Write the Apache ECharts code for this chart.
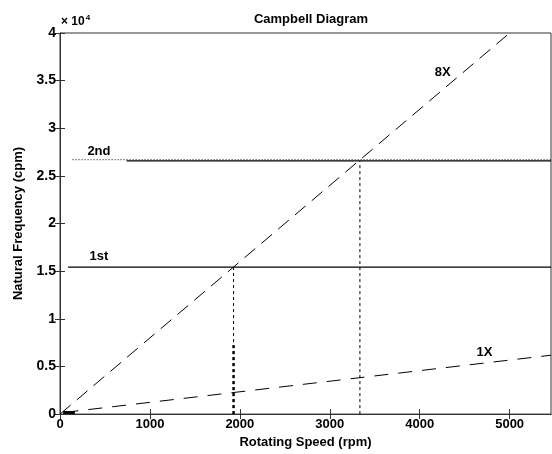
<!DOCTYPE html>
<html>
<head>
<meta charset="utf-8">
<script src="https://cdn.jsdelivr.net/npm/echarts@6/dist/echarts.min.js"></script>
<style>
  html, body { margin: 0; padding: 0; background: #fff; }
  #chart { width: 552px; height: 454px; }
</style>
</head>
<body>
<div id="chart"></div>
<script>
// x range / ticks
const xTicks = [0, 1000, 2000, 3000, 4000, 5000]
const xMax = 5460
const yTicks = [0, 5000, 10000, 15000, 20000, 25000, 30000, 35000, 40000]

// excitation lines
const line8X = [[0, 0], [5000, 40000]]
const line1X = [[50, 180], [5460, 6180]]

// natural frequencies
const mode1st = [[90, 15420], [5460, 15420]]
const mode2ndDotted = [[140, 26700], [5460, 26700]]
const mode2nd = [[740, 26570], [5460, 26570]]

// crossing markers
const cross1 = [[1930, 0], [1930, 15420]]
const cross1Thick = [[1930, 0], [1930, 7300]]
const cross2 = [[3335, 0], [3335, 26570]]
const originMark = [[35, 180], [165, 180]]

// text labels [x, y, text]
const labels = [
  [4255, 35900, '8X'],
  [4720, 6500, '1X'],
  [433, 27540, '2nd'],
  [433, 16550, '1st']
]

const font = 'Liberation Sans'
const txt = { color: '#000', fontFamily: font, fontWeight: 'bold', fontSize: 13 }

function seg(data, type, width) {
  return {
    type: 'line',
    data: data,
    symbol: 'none',
    silent: true,
    lineStyle: { color: '#000', width: width || 1, type: type }
  }
}

const chart = echarts.init(document.getElementById('chart'))
chart.setOption({
  animation: false,
  title: {
    text: 'Campbell Diagram',
    left: 306,
    textAlign: 'center',
    top: 8,
    textStyle: txt
  },
  grid: {
    left: 60, right: 1, top: 33, bottom: 39,
    show: true, borderColor: '#333', borderWidth: 1
  },
  xAxis: [{
    type: 'value', min: 0, max: xMax,
    name: 'Rotating Speed (rpm)', nameLocation: 'middle', nameGap: 21,
    nameTextStyle: txt,
    axisLine: { lineStyle: { color: '#333' } },
    axisTick: { inside: true, length: 5, customValues: xTicks, lineStyle: { color: '#333' } },
    axisLabel: Object.assign({}, txt, { margin: 4, customValues: xTicks, formatter: v => String(v) }),
    splitLine: { show: false }
  }, {
    type: 'value', min: 0, max: xMax, position: 'top',
    axisLine: { lineStyle: { color: '#333' } },
    axisTick: { inside: true, length: 5, customValues: xTicks, lineStyle: { color: '#333' } },
    axisLabel: { show: false },
    splitLine: { show: false }
  }],
  yAxis: [{
    type: 'value', min: yTicks[0], max: yTicks[yTicks.length - 1], interval: 5000,
    name: 'Natural Frequency (cpm)', nameLocation: 'middle', nameGap: 35,
    nameTextStyle: txt,
    axisLine: { lineStyle: { color: '#333' } },
    axisTick: { inside: true, length: 5, lineStyle: { color: '#333' } },
    axisLabel: Object.assign({}, txt, { fontSize: 14, margin: 4, formatter: v => String(v / 10000) }),
    splitLine: { show: false }
  }, {
    type: 'value', min: yTicks[0], max: yTicks[yTicks.length - 1], interval: 5000, position: 'right',
    axisLine: { lineStyle: { color: '#333' } },
    axisTick: { inside: true, length: 5, lineStyle: { color: '#333' } },
    axisLabel: { show: false },
    splitLine: { show: false }
  }],
  series: [
    seg(line8X, [14, 8]),
    seg(line1X, [14, 10]),
    seg(mode1st, 'solid', 1.2),
    seg(mode2ndDotted, [1, 2]),
    seg(mode2nd, 'solid', 1.2),
    seg(cross1, [3, 3]),
    seg(cross1Thick, [3, 3], 2.5),
    seg(cross2, [3, 3]),
    seg(originMark, 'solid', 3)
  ]
})

// text labels placed through the axis scales
const textEls = labels.map(l => {
  const p = chart.convertToPixel({ xAxisIndex: 0, yAxisIndex: 0 }, [l[0], l[1]])
  return {
    type: 'text',
    x: p[0],
    y: p[1],
    style: {
      text: l[2], fill: '#000', font: 'bold 13px ' + font,
      align: 'center', verticalAlign: 'middle'
    }
  }
})
textEls.push({
  type: 'text',
  left: 61,
  top: 14,
  style: {
    text: '× 10{s|4}',
    fill: '#000',
    font: 'bold 12px ' + font,
    rich: { s: { fontSize: 8, fontWeight: 'bold', fontFamily: font, verticalAlign: 'top', padding: [0, 0, 8, 1] } }
  }
})
chart.setOption({ graphic: textEls })
</script>
</body>
</html>
